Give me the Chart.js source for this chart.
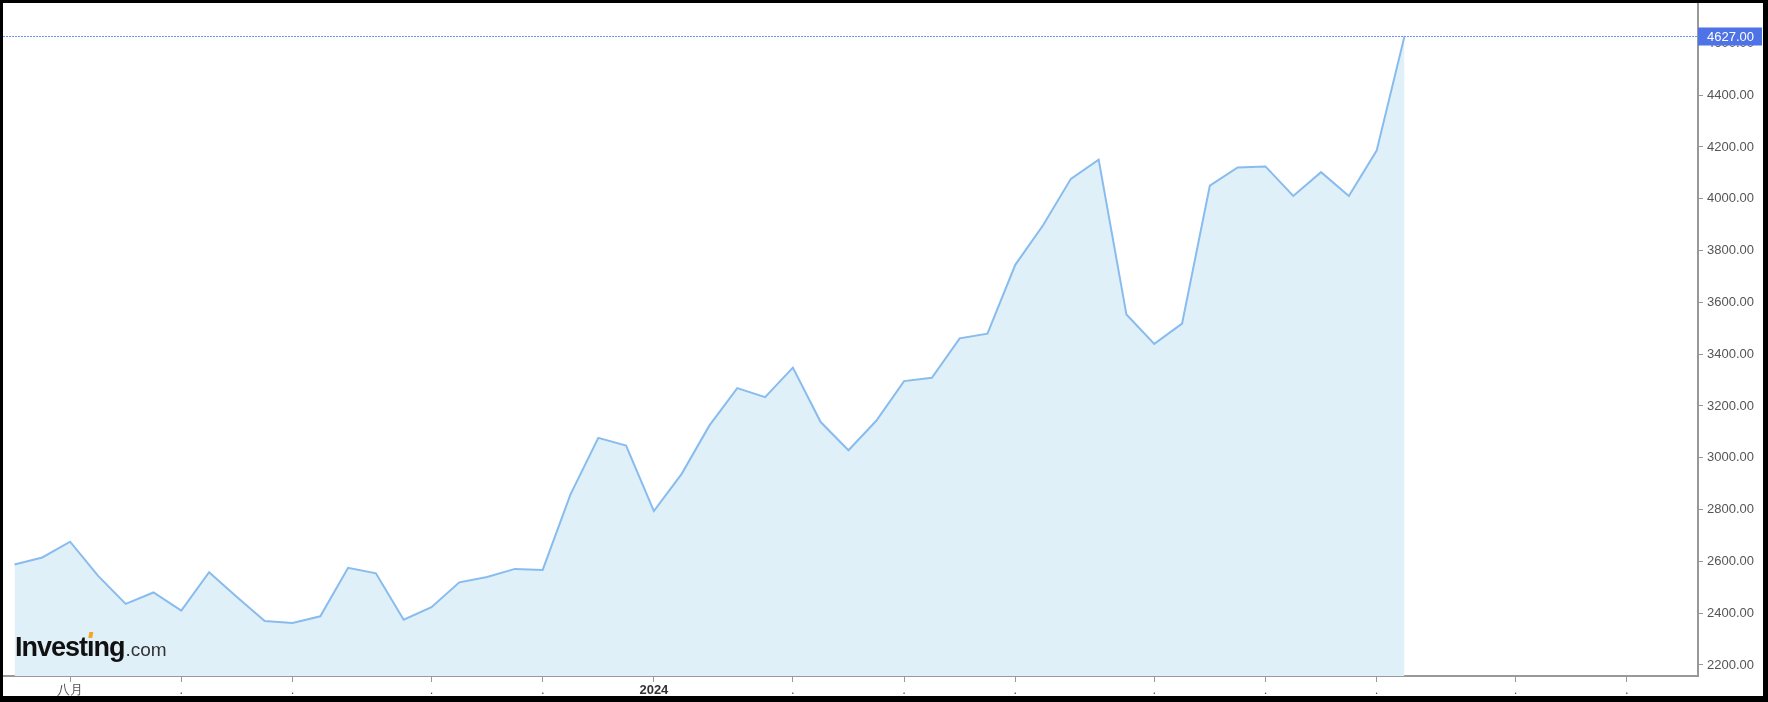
<!DOCTYPE html>
<html>
<head>
<meta charset="utf-8">
<script src="https://cdn.jsdelivr.net/npm/chart.js@4/dist/chart.umd.min.js"></script>
<style>
  html, body { margin: 0; padding: 0; background: #fff; }
  #frame {
    width: 1760px;
    height: 693px;
    border-style: solid;
    border-color: #000;
    border-width: 3px 5px 6px 3px;
    background: #fff;
  }
  canvas { display: block; }
</style>
</head>
<body>
<div id="frame"><canvas id="goldChart" width="1760" height="693"></canvas></div>
<script>
// weekly closes, first point = last week of July 2023
const prices = [
  2588, 2615, 2676, 2545, 2436, 2480, 2410, 2558, 2462, 2370,
  2362, 2388, 2575, 2554, 2375, 2423, 2519, 2540, 2571, 2567,
  2859, 3077, 3047, 2794, 2938, 3125, 3269, 3234, 3348, 3138,
  3029, 3143, 3296, 3309, 3461, 3479, 3745, 3898, 4077, 4151,
  3553, 3440, 3518, 4051, 4121, 4125, 4011, 4103, 4011, 4186,
  4627
];

// first week of each month (index into prices) and the label shown there
const monthTickIdx = [2, 6, 10, 15, 19, 23, 28, 32, 36, 41, 45, 49, 54, 58];
const monthTickLabels = ['八月', '.', '.', '.', '.', '2024', '.', '.', '.', '.', '.', '.', '.', '.'];

const yTicks = [2200, 2400, 2600, 2800, 3000, 3200, 3400, 3600, 3800, 4000, 4200, 4400, 4600];

const lastPrice = prices[prices.length - 1];

// dotted line + blue price tag on the axis
const lastPricePlugin = {
  id: 'lastPrice',
  afterDraw: function (chart) {
    const ctx = chart.ctx;
    const area = chart.chartArea;
    const y = Math.round(chart.scales.y.getPixelForValue(lastPrice)) + 0.5;
    ctx.save();
    ctx.strokeStyle = '#6f93f2';
    ctx.lineWidth = 1;
    ctx.setLineDash([2, 1]);
    ctx.beginPath();
    ctx.moveTo(area.left, y);
    ctx.lineTo(area.right, y);
    ctx.stroke();
    ctx.setLineDash([]);

    ctx.fillStyle = '#4e73e6';
    ctx.fillRect(area.right, y - 9, chart.width - area.right - 1, 18);
    ctx.fillStyle = '#fff';
    ctx.font = '13px "Liberation Sans", Arial, sans-serif';
    ctx.textBaseline = 'middle';
    ctx.textAlign = 'left';
    ctx.fillText(lastPrice.toFixed(2), area.right + 9, y + 1);
    ctx.restore();
  },
};

// Investing.com watermark, bottom left
const watermarkPlugin = {
  id: 'watermark',
  afterDatasetsDraw: function (chart) {
    const ctx = chart.ctx;
    const x = chart.chartArea.left + 12;
    const base = chart.chartArea.bottom - 20;
    ctx.save();
    ctx.textBaseline = 'alphabetic';
    ctx.textAlign = 'left';
    ctx.fillStyle = '#111';
    ctx.font = 'bold 27px "Liberation Sans", Arial, sans-serif';
    ctx.letterSpacing = '-1px';
    const head = 'Invest';
    ctx.fillText(head + '\u0131ng', x, base);
    const headW = ctx.measureText(head).width;
    const iW = ctx.measureText('\u0131').width;
    const fullW = ctx.measureText(head + '\u0131ng').width;
    // orange dot on the i
    const cx = x + headW + iW / 2 - 1;
    ctx.fillStyle = '#f5a623';
    ctx.beginPath();
    ctx.moveTo(cx - 1, base - 18);
    ctx.lineTo(cx + 3, base - 18);
    ctx.lineTo(cx + 4, base - 24);
    ctx.lineTo(cx, base - 24);
    ctx.closePath();
    ctx.fill();

    ctx.letterSpacing = '0px';
    ctx.fillStyle = '#333';
    ctx.font = '19px "Liberation Sans", Arial, sans-serif';
    ctx.fillText('.com', x + fullW + 1, base);
    ctx.restore();
  },
};

new Chart(document.getElementById('goldChart').getContext('2d'), {
  type: 'line',
  data: {
    datasets: [
      {
        data: prices.map((p, i) => ({ x: i, y: p })),
        borderColor: '#88bcee',
        backgroundColor: '#e0f0f9',
        borderWidth: 2,
        fill: 'start',
        tension: 0,
        pointRadius: 0,
      },
    ],
  },
  plugins: [watermarkPlugin, lastPricePlugin],
  options: {
    responsive: false,
    devicePixelRatio: 1,
    animation: false,
    events: [],
    layout: { padding: 0 },
    plugins: {
      legend: { display: false },
      tooltip: { enabled: false },
    },
    scales: {
      x: {
        type: 'linear',
        min: -0.414,
        max: 60.56,
        afterBuildTicks: function (scale) {
          scale.ticks = monthTickIdx.map((v) => ({ value: v }));
        },
        afterFit: function (scale) {
          scale.height = 20;
          scale.paddingLeft = 0;
          scale.paddingRight = 0;
        },
        grid: {
          drawOnChartArea: false,
          drawTicks: true,
          tickLength: 6,
          color: '#999',
        },
        border: { color: '#999', width: 2 },
        ticks: {
          autoSkip: false,
          maxRotation: 0,
          padding: 1,
          color: function (ctx) {
            return ctx.tick && ctx.tick.value === 23 ? '#333' : '#555';
          },
          font: function (ctx) {
            const bold = ctx.tick && ctx.tick.value === 23;
            return {
              family: '"Liberation Sans", Arial, sans-serif',
              size: 13,
              weight: bold ? 'bold' : 'normal',
            };
          },
          callback: function (value) {
            const k = monthTickIdx.indexOf(value);
            return k >= 0 ? monthTickLabels[k] : '';
          },
        },
      },
      y: {
        position: 'right',
        min: 2157.4,
        max: 4756,
        afterBuildTicks: function (scale) {
          scale.ticks = yTicks.map((v) => ({ value: v }));
        },
        afterFit: function (scale) {
          scale.width = 65;
          scale.paddingTop = 0;
          scale.paddingBottom = 0;
        },
        grid: {
          drawOnChartArea: false,
          drawTicks: true,
          tickLength: 5,
          color: '#999',
        },
        border: { color: '#999', width: 2 },
        ticks: {
          padding: 4,
          color: '#555',
          font: { family: '"Liberation Sans", Arial, sans-serif', size: 13 },
          callback: function (value) {
            return Number(value).toFixed(2);
          },
        },
      },
    },
  },
});
</script>
</body>
</html>
